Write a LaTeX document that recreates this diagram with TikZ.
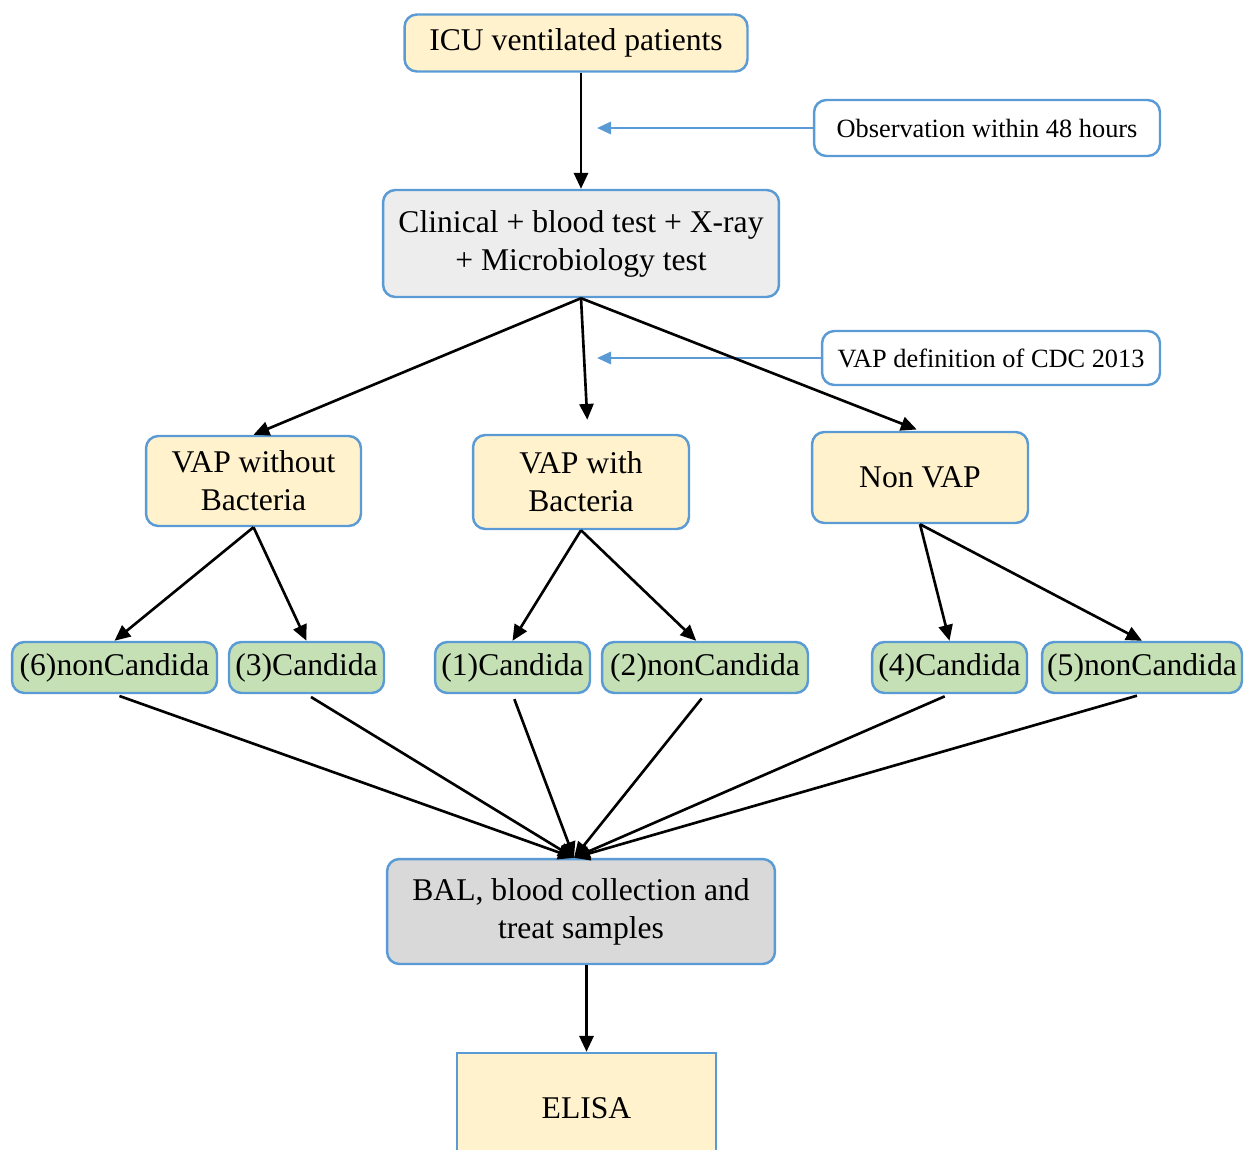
\documentclass[tikz,border=0pt]{standalone}
\usepackage{fontspec}
\setmainfont{Liberation Serif}
\usepackage{tikz}
\usetikzlibrary{arrows.meta,shapes,positioning}
\usepackage{xcolor}
\definecolor{flblue}{RGB}{91,155,213}
\definecolor{flyellow}{RGB}{255,242,204}
\definecolor{flgreen}{RGB}{197,224,180}
\definecolor{flgray}{RGB}{237,237,237}
\definecolor{fldarkgray}{RGB}{217,217,217}
\tikzstyle{arrow} = [line width=1.5pt,-{Triangle[length=9pt,width=8pt]},color=black]
\tikzstyle{notearrow} = [line width=1.4pt,-{Triangle[length=8pt,width=7pt]},color=flblue]
\tikzstyle{stage} = [rectangle, rounded corners=7pt, draw=flblue, line width=1.4pt, fill=flyellow, align=center, inner xsep=3pt, font=\fontsize{18}{21.6}\selectfont]
\tikzstyle{leaf} = [stage, fill=flgreen, minimum height=1.02cm, inner xsep=2pt]
\tikzstyle{note} = [stage, fill=white, font=\fontsize{15}{18}\selectfont]

\begin{document}
\begin{tikzpicture}[x=0.02cm, y=-0.02cm]
\useasboundingbox (0,0) rectangle (1256,1149);
% screening
\node (icu) [stage, minimum width=6.86cm, minimum height=1.14cm] at (576,43) {ICU ventilated patients};
\node (clin) [stage, fill=flgray, minimum width=7.92cm, minimum height=2.14cm] at (581,243.5) {Clinical + blood test + X-ray\\+ Microbiology test};
\node (obs) [note, minimum width=6.92cm, minimum height=1.12cm] at (987,128) {Observation within 48 hours};
\node (cdc) [note, minimum width=6.76cm, minimum height=1.08cm] at (991,358) {VAP definition of CDC 2013};
\coordinate (obsend) at (597,128);
\coordinate (cdcend) at (597,358);

% groups
\node (vapwo) [stage, minimum width=4.3cm, minimum height=1.8cm] at (253.5,481) {VAP without\\Bacteria};
\node (vapw) [stage, minimum width=4.32cm, minimum height=1.88cm] at (581,482) {VAP with\\Bacteria};
\node (nonvap) [stage, minimum width=4.32cm, minimum height=1.82cm] at (920,477.5) {Non VAP};

% subgroups
\node (c6) [leaf, minimum width=4.1cm] at (114.5,667.5) {(6)nonCandida};
\node (c3) [leaf, minimum width=3.1cm] at (306.5,667.5) {(3)Candida};
\node (c1) [leaf, minimum width=3.1cm] at (512.5,667.5) {(1)Candida};
\node (c2) [leaf, minimum width=4.12cm] at (705,667.5) {(2)nonCandida};
\node (c4) [leaf, minimum width=3.1cm] at (949.5,667.5) {(4)Candida};
\node (c5) [leaf, minimum width=4.0cm] at (1142,667.5) {(5)nonCandida};

% sampling
\node (bal) [stage, fill=fldarkgray, minimum width=7.76cm, minimum height=2.1cm] at (581,911.5) {BAL, blood collection and\\treat samples};
\node (elisa) [stage, rounded corners=0pt, minimum width=5.18cm, minimum height=2.2cm] at (586.5,1108) {ELISA};

\draw[arrow] (clin.north |- icu.south) -- (clin.north);
\draw[notearrow] (obs.west) -- (obsend);
\draw[notearrow] (cdc.west) -- (cdcend);
\draw[arrow] (clin.south) -- (vapwo.north);
\draw[arrow, shorten >=8pt] (clin.south) -- ([xshift=4pt]vapw.north);
\draw[arrow, shorten >=2pt] (clin.south) -- (nonvap.north);
\draw[arrow] (vapwo.south) -- (c6.north);
\draw[arrow] (vapwo.south) -- (c3.north);
\draw[arrow] (vapw.south) -- (c1.north);
\draw[arrow] (vapw.south) -- ([xshift=-5pt]c2.north);
\draw[arrow] (nonvap.south) -- (c4.north);
\draw[arrow] (nonvap.south) -- (c5.north);
\foreach \n in {c6,c3,c1,c2,c4,c5}
  \draw[arrow, shorten <=3pt] (\n.south) -- ([xshift=-4pt]bal.north);
\draw[arrow] (bal.south -| elisa.north) -- (elisa.north);
\end{tikzpicture}
\end{document}
